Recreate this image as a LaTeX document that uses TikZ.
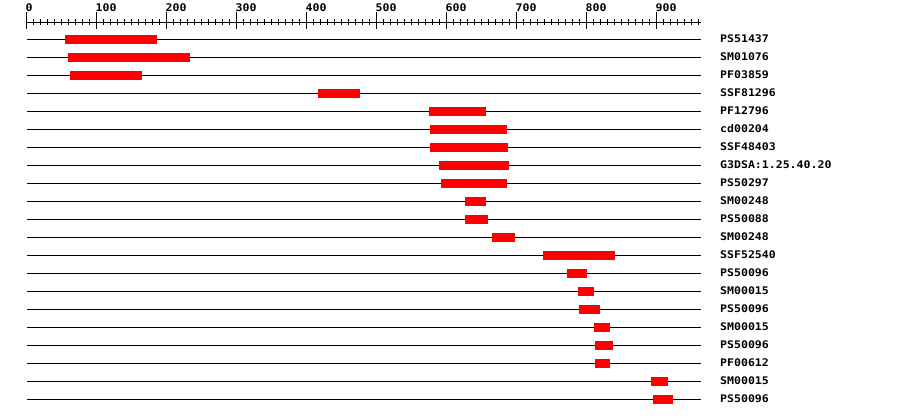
\documentclass[tikz,border=0pt]{standalone}
\usepackage{fontspec}
\newfontfamily\lblfont[FakeStretch=1.1]{DejaVu Sans Mono Bold}
\definecolor{barred}{HTML}{FF0000}
\begin{document}
\begin{tikzpicture}[x=1pt,y=-1pt,
  rowline/.style={line width=1pt,black},
  domainbar/.style={fill=barred,draw=none},
  rowlabel/.style={anchor=west,inner sep=0pt,font=\lblfont\fontsize{10.5}{12}\selectfont},
  ticklabel/.style={anchor=south west,inner sep=0pt,font=\lblfont\fontsize{10.5}{12}\selectfont}]
\useasboundingbox[fill=white] (0,0) rectangle (900,418);
% ruler
\draw[rowline] (26.5,22) -- (701,22);
\foreach \i in {0,...,96}{
  \pgfmathsetmacro{\xx}{26.5+7*\i}
  \draw[line width=1pt] (\xx,19) -- (\xx,25);
}
\foreach \v [count=\k from 0] in {0,100,200,300,400,500,600,700,800,900}{
  \pgfmathsetmacro{\xx}{26.5+70*\k}
  \draw[line width=1pt] (\xx,12) -- (\xx,29);
  \node[ticklabel] (t\k) at (\xx-1,12) {\v};
}
% rows
\foreach \a/\b/\lab [count=\r from 0] in {
  65/157/PS51437, 68/190/SM01076, 70/142/PF03859, 318/360/SSF81296,
  429/486/PF12796, 430/507/cd00204, 430/508/SSF48403, 439/509/G3DSA:1.25.40.20,
  441/507/PS50297, 465/486/SM00248, 465/488/PS50088, 492/515/SM00248,
  543/615/SSF52540, 567/587/PS50096, 578/594/SM00015, 579/600/PS50096,
  594/610/SM00015, 595/613/PS50096, 595/610/PF00612, 651/668/SM00015,
  653/673/PS50096}{
  \pgfmathsetmacro{\yy}{39+18*\r}
  \coordinate (ls\r) at (26.5,\yy);
  \coordinate (le\r) at (701,\yy);
  \draw[rowline] (ls\r) -- (le\r);
  \fill[domainbar] (\a,\yy-4.5) rectangle (\b,\yy+4.5);
  \node[rowlabel] (lab\r) at (720,\yy-0.5) {\lab};
}
\end{tikzpicture}
\end{document}
